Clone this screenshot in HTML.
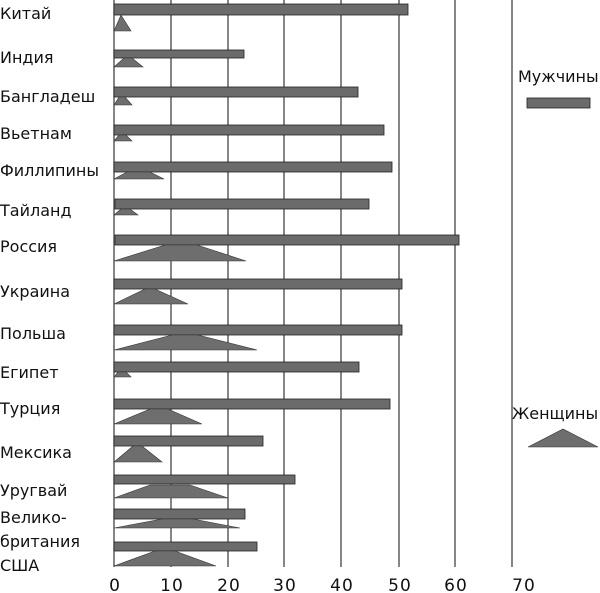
<!DOCTYPE html>
<html><head><meta charset="utf-8"><style>
body{margin:0;background:#fff}
svg{display:block}
text{font-family:"DejaVu Sans","Liberation Sans",sans-serif;fill:#111}
</style></head><body>
<svg width="600" height="593" viewBox="0 0 600 593">
<g stroke="#444" stroke-width="1.3">
<line x1="114" y1="0" x2="114" y2="567"/>
<line x1="171" y1="0" x2="171" y2="567"/>
<line x1="228" y1="0" x2="228" y2="567"/>
<line x1="284" y1="0" x2="284" y2="567"/>
<line x1="341" y1="0" x2="341" y2="567"/>
<line x1="399" y1="0" x2="399" y2="567"/>
<line x1="455" y1="0" x2="455" y2="567"/>
<line x1="512" y1="0" x2="512" y2="567"/>
</g>
<g fill="#6b6b6b" stroke="#222" stroke-width="0.8">
<rect x="114" y="4" width="294" height="11"/>
<rect x="114" y="50" width="130" height="8"/>
<rect x="114" y="87" width="244" height="10"/>
<rect x="114" y="125" width="270" height="10"/>
<rect x="114" y="162" width="278" height="10"/>
<rect x="115" y="199" width="254" height="10"/>
<rect x="115" y="235" width="344" height="10"/>
<rect x="114" y="279" width="288" height="10"/>
<rect x="114" y="325" width="288" height="10"/>
<rect x="114" y="362" width="245" height="10"/>
<rect x="114" y="399" width="276" height="10"/>
<rect x="114" y="436" width="149" height="10"/>
<rect x="114" y="475" width="181" height="9"/>
<rect x="114" y="509" width="131" height="10"/>
<rect x="114" y="542" width="143" height="9"/>
<rect x="527" y="98" width="63" height="10"/>
</g>
<g fill="#6e6e6e" stroke="#333" stroke-width="0.6">
<polygon points="114,31 121,15 131,31"/>
<polygon points="114,67 124,58 132,58 143,67"/>
<polygon points="114,105 119,97 125,97 132,105"/>
<polygon points="114,141 119,135 126,135 132,141"/>
<polygon points="114,179 127,172 150,172 164,179"/>
<polygon points="114,215 121,209 130,209 138,215"/>
<polygon points="114,261 165,245 197,245 246,261"/>
<polygon points="114,304 145,289 155,289 188,304"/>
<polygon points="114,350 172,335 198,335 257,350"/>
<polygon points="114,377 118,372 126,372 131,377"/>
<polygon points="114,424 150,409 168,409 202,424"/>
<polygon points="114,462 133,446 142,446 162,462"/>
<polygon points="114,498 150,485 190,485 228,498"/>
<polygon points="114,528 162,519 193,519 240,528"/>
<polygon points="114,566 155,551 175,551 216,566"/>
<polygon points="528,447 563,429 598,447"/>
</g>
<g font-size="16">
<text x="0" y="19">Китай</text>
<text x="0" y="63">Индия</text>
<text x="0" y="102">Бангладеш</text>
<text x="0" y="139">Вьетнам</text>
<text x="0" y="176">Филлипины</text>
<text x="0" y="216">Тайланд</text>
<text x="0" y="252">Россия</text>
<text x="0" y="297">Украина</text>
<text x="0" y="339">Польша</text>
<text x="0" y="378">Египет</text>
<text x="0" y="414">Турция</text>
<text x="0" y="458">Мексика</text>
<text x="0" y="496">Уругвай</text>
<text x="0" y="523">Велико-</text>
<text x="0" y="547">британия</text>
<text x="0" y="571">США</text>
<text x="518" y="82">Мужчины</text>
<text x="512" y="419">Женщины</text>
</g>
<g font-size="17" text-anchor="middle" letter-spacing="1">
<text x="115" y="591">0</text>
<text x="172" y="591">10</text>
<text x="229" y="591">20</text>
<text x="285" y="591">30</text>
<text x="342" y="591">40</text>
<text x="400" y="591">50</text>
<text x="456" y="591">60</text>
<text x="524" y="591">70</text>
</g>
</svg>
</body></html>
